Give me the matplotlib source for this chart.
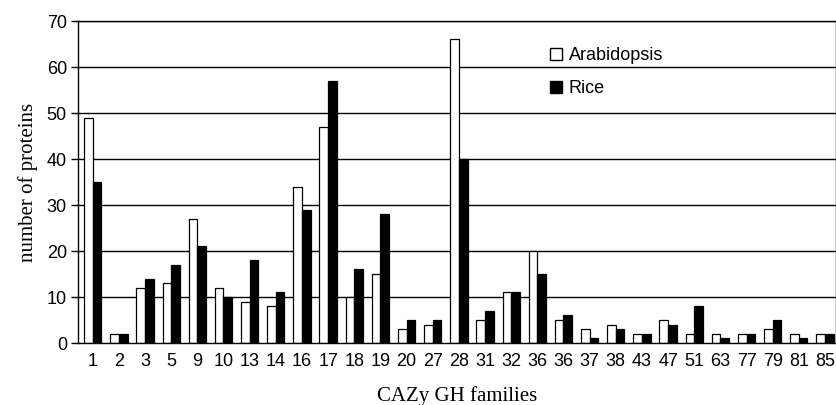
import numpy as np
import matplotlib.pyplot as plt
from matplotlib.lines import Line2D

# CAZy GH families and protein counts
families = ['1', '2', '3', '5', '9', '10', '13', '14', '16', '17', '18', '19', '20', '27',
            '28', '31', '32', '36', '36', '37', '38', '43', '47', '51', '63', '77', '79', '81', '85']
arabidopsis = [49, 2, 12, 13, 27, 12, 9, 8, 34, 47, 10, 15, 3, 4,
               66, 5, 11, 20, 5, 3, 4, 2, 5, 2, 2, 2, 3, 2, 2]
rice = [35, 2, 14, 17, 21, 10, 18, 11, 29, 57, 16, 28, 5, 5,
        40, 7, 11, 15, 6, 1, 3, 2, 4, 8, 1, 2, 5, 1, 2]
yticks = [0, 10, 20, 30, 40, 50, 60, 70]

x = np.arange(len(families))
w = 0.33

fig = plt.figure(figsize=(8.37, 4.05), dpi=100)
ax = fig.add_axes([78 / 837, 1 - 343 / 405, 758 / 837, 322 / 405])

# gridlines behind the bars
for v in yticks[1:]:
    ax.axhline(v, color='black', linewidth=1.0, zorder=0)

ax.bar(x - w / 2, arabidopsis, width=w, color='white', edgecolor='black', linewidth=0.9, zorder=2)
ax.bar(x + w / 2, rice, width=w, color='black', edgecolor='black', linewidth=0.9, zorder=2)

ax.set_xlim(-0.563, 28.42)
ax.set_ylim(0, 70)
ax.set_yticks(yticks)
ax.set_yticklabels([str(v) for v in yticks], family='Liberation Sans', fontsize=13)
ax.set_xticks(x)
ax.set_xticklabels(families, family=['Liberation Sans Narrow', 'Liberation Sans'], fontsize=13)
ax.tick_params(axis='x', length=0, pad=7)
ax.tick_params(axis='y', length=5, width=1, pad=3)

for s in ax.spines.values():
    s.set_linewidth(1.0)

ax.set_ylabel('number of proteins', family='Liberation Serif', fontsize=15, labelpad=6)
ax.set_xlabel('CAZy GH families', family='Liberation Serif', fontsize=15, labelpad=12)

handles = [
    Line2D([], [], marker='s', linestyle='none', markerfacecolor='white',
           markeredgecolor='black', markersize=9, markeredgewidth=1),
    Line2D([], [], marker='s', linestyle='none', markerfacecolor='black',
           markeredgecolor='black', markersize=9, markeredgewidth=1),
]
ax.legend(handles, ['Arabidopsis', 'Rice'], frameon=False, loc='upper left',
          bbox_to_anchor=(540 / 837, 1 - 38 / 405), bbox_transform=fig.transFigure,
          prop={'family': 'Liberation Sans', 'size': 13}, handlelength=0.8,
          handletextpad=0.3, labelspacing=0.9, borderpad=0)

plt.savefig('out.png', dpi=100)
